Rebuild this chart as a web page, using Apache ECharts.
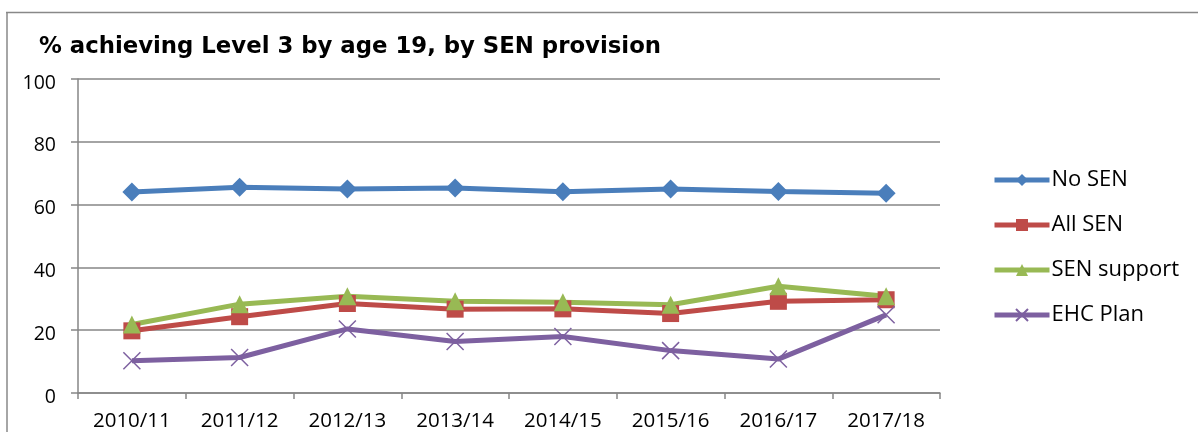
<!DOCTYPE html>
<html>
<head>
<meta charset="utf-8">
<script src="https://cdn.jsdelivr.net/npm/echarts@6/dist/echarts.min.js"></script>
<style>
html,body{margin:0;padding:0;background:#fff;}
#c{width:1198px;height:432px;}
</style>
</head>
<body>
<div id="c"></div>
<script>
const categories = ['2010/11','2011/12','2012/13','2013/14','2014/15','2015/16','2016/17','2017/18'];
const noSEN      = [64.0, 65.5, 65.0, 65.3, 64.1, 65.0, 64.2, 63.6];
const allSEN     = [19.8, 24.3, 28.5, 26.7, 26.8, 25.3, 29.2, 29.7];
const senSupport = [21.8, 28.3, 30.8, 29.2, 28.9, 28.1, 34.0, 30.8];
const ehcPlan    = [10.3, 11.3, 20.4, 16.4, 18.0, 13.5, 10.8, 24.9];
const yTicks = [0, 20, 40, 60, 80, 100];

const font = '"Open Sans", Lato, sans-serif';
const chart = echarts.init(document.getElementById('c'), null, {renderer: 'canvas'});

function mkSeries(name, data, color, symbol, size) {
  return {
    name, type: 'line', data, symbol, symbolSize: size,
    lineStyle: {color, width: 5},
    itemStyle: {color, borderWidth: 0},
    emphasis: {disabled: true},
    animation: false
  };
}

chart.setOption({
  animation: false,
  textStyle: {fontFamily: font},
  title: {
    text: '% achieving Level 3 by age 19, by SEN provision',
    left: 34, top: 31,
    textStyle: {fontFamily: '"DejaVu Sans", sans-serif', fontSize: 22.8, fontWeight: 'bold', color: '#000'}
  },
  graphic: [
    {type: 'line', shape: {x1: 6, y1: 12.5, x2: 1198, y2: 12.5}, style: {stroke: '#888', lineWidth: 1.5}, silent: true},
    {type: 'line', shape: {x1: 7, y1: 12, x2: 7, y2: 432}, style: {stroke: '#888', lineWidth: 1.5}, silent: true}
  ],
  grid: {left: 78, right: 258, top: 79, bottom: 38, containLabel: false},
  legend: {
    orient: 'vertical',
    left: 992, top: 169, padding: 0,
    itemWidth: 55, itemHeight: 15, itemGap: 23,
    lineStyle: {width: 5},
    textStyle: {fontFamily: font, fontSize: 22, lineHeight: 22, color: '#000', padding: [0,0,0,-3]},
    data: ['No SEN', 'All SEN', 'SEN support', 'EHC Plan']
  },
  xAxis: {
    type: 'category',
    data: categories,
    boundaryGap: true,
    axisLine: {lineStyle: {color: '#868686', width: 1.5}},
    axisTick: {show: true, length: 6, alignWithLabel: false, lineStyle: {color: '#868686', width: 1.5}},
    axisLabel: {color: '#000', fontFamily: font, fontSize: 20.5, margin: 18, interval: 0},
    splitLine: {show: false}
  },
  yAxis: {
    type: 'value',
    min: 0, max: 100, interval: 20,
    axisLine: {show: true, lineStyle: {color: '#868686', width: 1.5}},
    axisTick: {show: true, length: 7, lineStyle: {color: '#868686', width: 1.5}},
    axisLabel: {color: '#000', fontFamily: font, fontSize: 19.5, margin: 22,
      verticalAlign: 'top', lineHeight: 8,
      formatter: v => yTicks.includes(v) ? String(v) : ''},
    splitLine: {show: true, lineStyle: {color: '#868686', width: 1.5}}
  },
  series: [
    mkSeries('No SEN', noSEN, '#4A7EBB', 'diamond', 19),
    mkSeries('All SEN', allSEN, '#BE4B48', 'rect', 17),
    mkSeries('SEN support', senSupport, '#98B954', 'triangle', 18),
    Object.assign(mkSeries('EHC Plan', ehcPlan, '#7D60A0', 'path://M0,0 L10,10 M10,0 L0,10', 17), {
      itemStyle: {color: 'none', borderColor: '#7D60A0', borderWidth: 1.5}
    })
  ]
});
</script>
</body>
</html>
